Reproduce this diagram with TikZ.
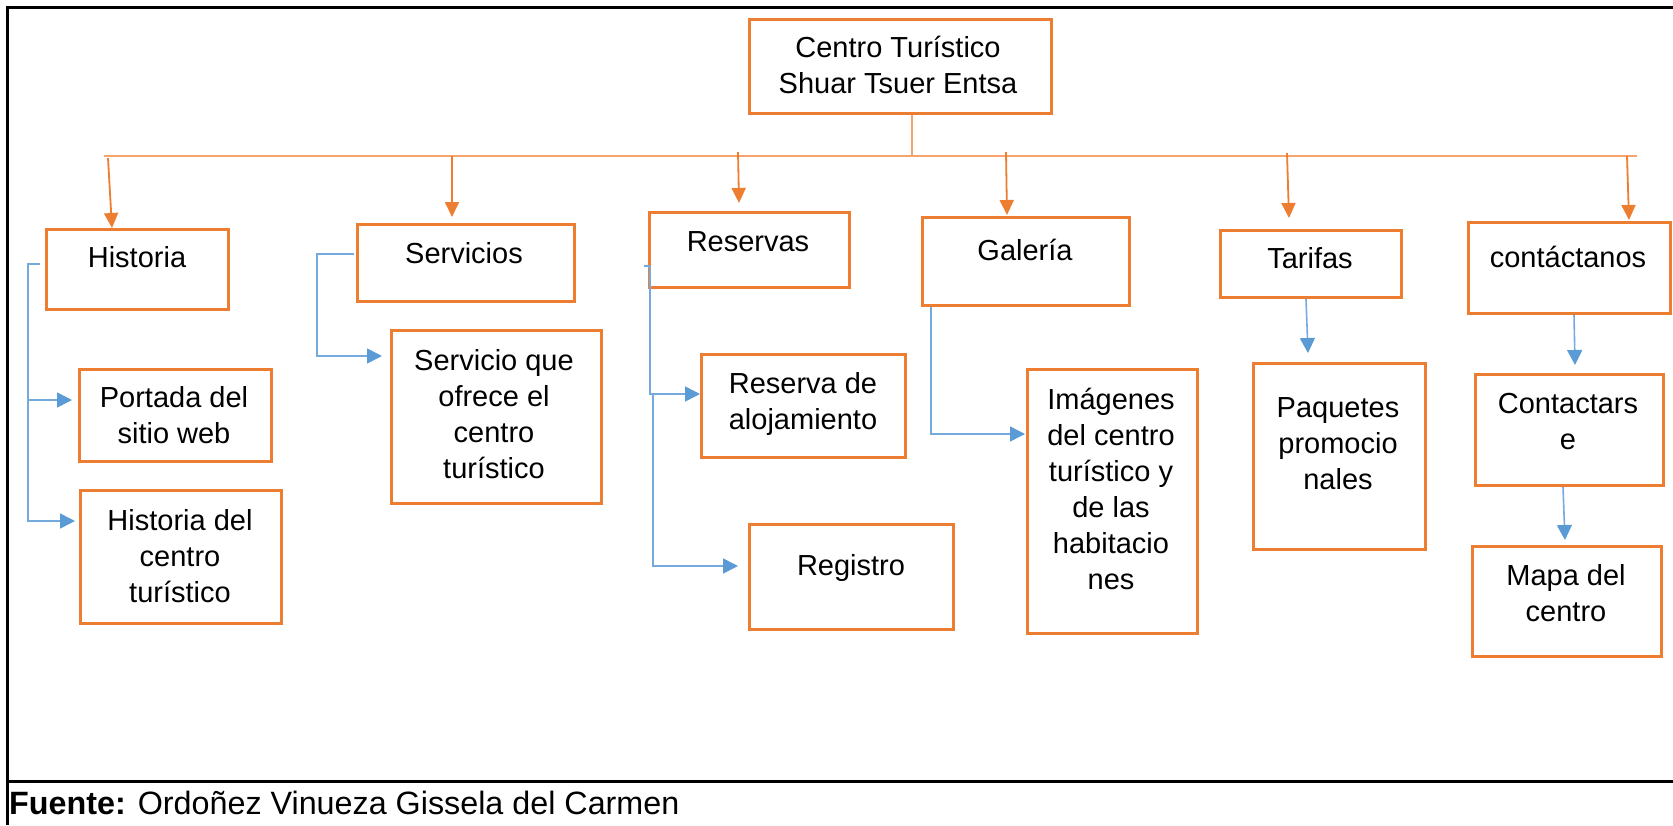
\documentclass[tikz,border=0pt]{standalone}
\usepackage{fontspec}
\setmainfont{Liberation Sans}
\usetikzlibrary{arrows.meta,calc}
\definecolor{orng}{HTML}{ED7D31}
\definecolor{lorng}{HTML}{F4A46C}
\definecolor{blu}{HTML}{5B9BD5}
\definecolor{lblu}{HTML}{74AADD}
\tikzset{
  obox/.style={draw=orng,line width=3pt,inner sep=0pt,anchor=north west,fill=none},
  txt/.style={align=center,inner sep=0pt,font=\fontsize{29}{36}\selectfont},
  oarr/.style={draw=orng,line width=1.8pt,-{Triangle[length=15pt,width=14pt]}},
  barr/.style={draw=lblu,line width=1.6pt,-{Triangle[length=15pt,width=15pt,color=blu]}},
  busline/.style={draw=lorng,line width=2pt},
  frameline/.style={draw=black,line width=3pt}
}
\begin{document}
\begin{tikzpicture}[x=1pt,y=-1pt]
\useasboundingbox (0,0) rectangle (1673,825);
% frame
\draw[frameline] (7,7.5) -- (1673,7.5);
\draw[frameline] (7.5,6) -- (7.5,825);
\draw[frameline] (6,781) -- (1673,781);
\node[anchor=west,inner sep=0pt,font=\fontsize{32.3}{36}\selectfont] (src) at (9,803) {\textbf{Fuente:} Ordoñez Vinueza Gissela del Carmen};

% boxes
\node[obox,minimum width=302pt,minimum height=94pt] (top) at (748,18) {};
\node[obox,minimum width=182pt,minimum height=80pt] (hist) at (45,228) {};
\node[obox,minimum width=217pt,minimum height=77pt] (serv) at (356,223) {};
\node[obox,minimum width=200pt,minimum height=75pt] (res) at (648,211) {};
\node[obox,minimum width=207pt,minimum height=88pt] (gal) at (921,216) {};
\node[obox,minimum width=181pt,minimum height=67pt] (tar) at (1219,229) {};
\node[obox,minimum width=202pt,minimum height=91pt] (con) at (1467,221) {};
\node[obox,minimum width=192pt,minimum height=92pt] (port) at (78,368) {};
\node[obox,minimum width=201pt,minimum height=133pt] (hdel) at (79,489) {};
\node[obox,minimum width=210pt,minimum height=173pt] (servq) at (390,329) {};
\node[obox,minimum width=204pt,minimum height=103pt] (resa) at (700,353) {};
\node[obox,minimum width=204pt,minimum height=105pt] (reg) at (748,523) {};
\node[obox,minimum width=170pt,minimum height=264pt] (img) at (1026,368) {};
\node[obox,minimum width=172pt,minimum height=186pt] (paq) at (1252,362) {};
\node[obox,minimum width=188pt,minimum height=111pt] (cont) at (1474,373) {};
\node[obox,minimum width=189pt,minimum height=110pt] (mapa) at (1471,545) {};

% texts
\node[txt] (t-top) at (898,68) {\strut Centro Turístico\\Shuar Tsuer Entsa\strut};
\node[txt] (t-hist) at (137,260) {\strut Historia};
\node[txt] (t-serv) at (464,256) {\strut Servicios};
\node[txt] (t-res) at (748,244) {\strut Reservas};
\node[txt] (t-gal) at (1025,253) {\strut Galería};
\node[txt] (t-tar) at (1310,261) {\strut Tarifas};
\node[txt] (t-con) at (1568,260) {\strut contáctanos};
\node[txt] (t-port) at (174,418) {\strut Portada del\\sitio web\strut};
\node[txt] (t-hdel) at (180,559) {\strut Historia del\\centro\\turístico\strut};
\node[txt] (t-servq) at (494,417) {\strut Servicio que\\ofrece el\\centro\\turístico\strut};
\node[txt] (t-resa) at (803,404) {\strut Reserva de\\alojamiento\strut};
\node[txt] (t-reg) at (851,568) {\strut Registro};
\node[txt] (t-img) at (1111,492) {\strut Imágenes\\del centro\\turístico y\\de las\\habitacio\\nes\strut};
\node[txt] (t-paq) at (1338,446) {\strut Paquetes\\promocio\\nales\strut};
\node[txt] (t-cont) at (1568,424) {\strut Contactars\\e\strut};
\node[txt] (t-mapa) at (1566,596) {\strut Mapa del\\centro\strut};

% bus
\coordinate (busL) at (104,156);
\coordinate (busR) at (1637,156);
\coordinate (stem) at ($(top.south)+(11,0)$);
\draw[busline] (busL) -- (busR);
\draw[busline] (stem) -- (stem |- busL);

% orange arrows
\draw[oarr] (108,158) -- ($(hist.north west)+(67,0)$);
\draw[oarr] (452,156) -- ($(serv.north west)+(96,-6)$);
\draw[oarr] (738,152) -- ($(res.north west)+(91,-8)$);
\draw[oarr] (1006,152) -- ($(gal.north west)+(86,-1)$);
\draw[oarr] (1287,153) -- ($(tar.north west)+(70,-11)$);
\draw[oarr] (1627,156) -- ($(con.north west)+(162,-1)$);

% blue connectors
\draw[barr] ($(hist.north west)+(-5,36)$) -- (28,264) -- (28,400) -- ($(port.north west)+(-6,32)$);
\draw[barr] (28,400) -- (28,521) -- ($(hdel.north west)+(-4,32)$);
\draw[barr] ($(serv.north west)+(-2,31)$) -- (317,254) -- (317,356) -- ($(servq.north west)+(-8,27)$);
\draw[draw=lblu,line width=1.6pt] (644,266) -- (650,266);
\draw[barr] (650,266) -- (650,394) -- ($(resa.north west)+(0,41)$);
\draw[barr] (653,394) -- (653,566) -- ($(reg.north west)+(-10,43)$);
\draw[barr] ($(gal.south west)+(10,0)$) -- (931,434) -- ($(img.north west)+(-1,66)$);
\draw[barr] ($(tar.south west)+(87,0)$) -- ($(paq.north west)+(56,-9)$);
\draw[barr] ($(con.south west)+(107,0)$) -- ($(cont.north west)+(101,-8)$);
\draw[barr] ($(cont.south west)+(89,0)$) -- ($(mapa.north west)+(94,-5)$);
\end{tikzpicture}
\end{document}
